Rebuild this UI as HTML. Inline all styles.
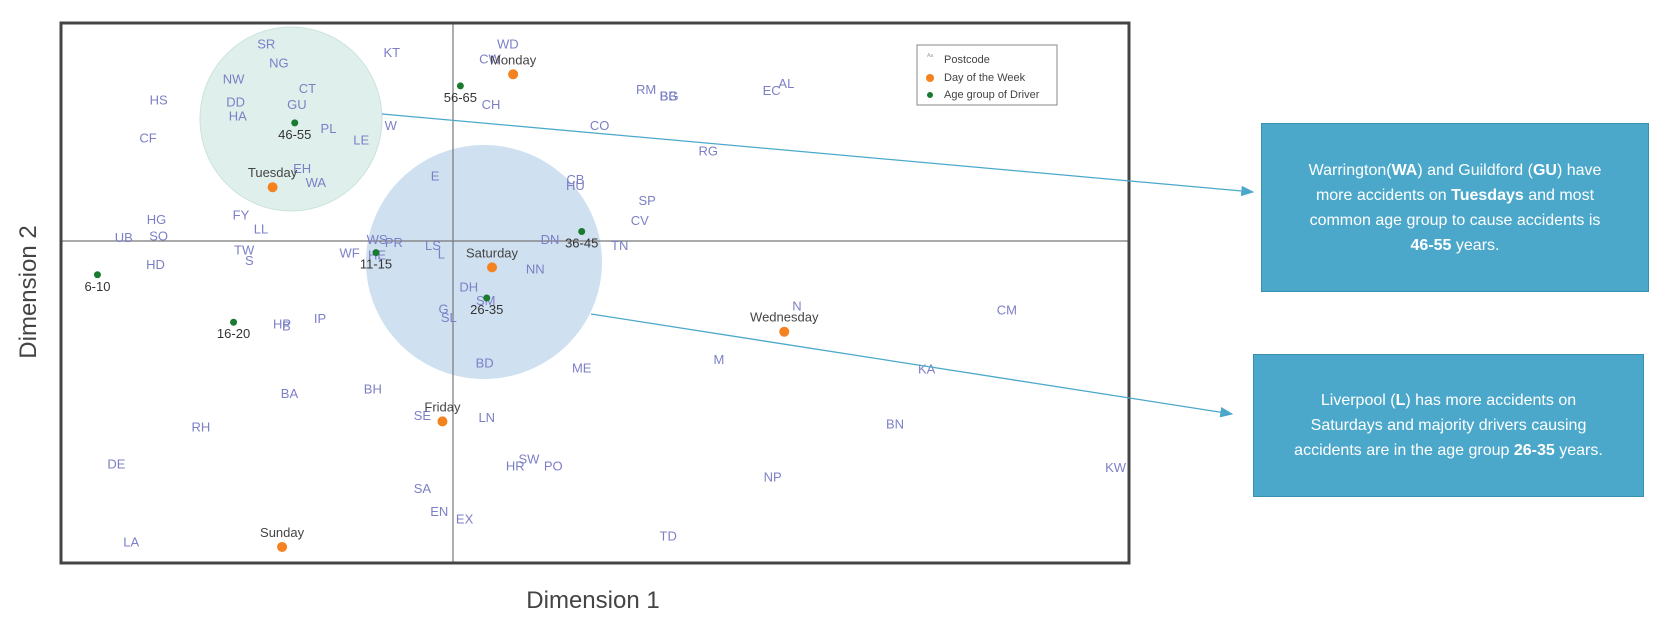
<!DOCTYPE html>
<html><head><meta charset="utf-8"><style>
body{margin:0;background:#fff;width:1656px;height:624px;overflow:hidden;font-family:"Liberation Sans",sans-serif}
.box{position:absolute;background:#4ba8cb;border:1px solid #3b8fb0;color:#fff;font-size:16px;line-height:25px;text-align:center;display:flex;align-items:center;justify-content:center;padding:0 34px;box-sizing:border-box}
.box div{width:100%}
</style></head><body>
<svg id="chart" width="1656" height="624" style="position:absolute;left:0;top:0">
<ellipse cx="291" cy="119" rx="91" ry="92" fill="#dff0ec" stroke="#c9e3dc"/>
<ellipse cx="484" cy="262" rx="118" ry="117" fill="#cfe0f0"/>
<g id="axes"></g><g id="marks"></g>
<rect x="61" y="23" width="1068" height="540" fill="none" stroke="#444" stroke-width="3"/>
<g>
<rect x="917" y="45" width="140" height="60" fill="#fff" stroke="#888"/>
<text x="927" y="57" font-size="5" fill="#99a">Aa</text>
<text x="944" y="63" font-size="11" fill="#444">Postcode</text>
<circle cx="930" cy="78" r="4" fill="#f58220"/>
<text x="944" y="81" font-size="11" fill="#444">Day of the Week</text>
<circle cx="930" cy="95" r="3" fill="#1a7a30"/>
<text x="944" y="98" font-size="11" fill="#444">Age group of Driver</text>
</g>
<defs><marker id="ah" markerWidth="10" markerHeight="8" refX="9" refY="4" orient="auto"><path d="M0,0 L10,4 L0,8 z" fill="#4ba8cb"/></marker></defs>
<line x1="382" y1="114" x2="1253" y2="192" stroke="#4ba8cb" stroke-width="1.3" marker-end="url(#ah)"/>
<line x1="591" y1="314" x2="1232" y2="414" stroke="#4ba8cb" stroke-width="1.3" marker-end="url(#ah)"/>
<text x="593" y="608" font-size="24" fill="#444" text-anchor="middle">Dimension 1</text>
<text transform="translate(36,292) rotate(-90)" font-size="24" fill="#444" text-anchor="middle">Dimension 2</text>
</svg>
<div class="box" style="left:1261px;top:123px;width:388px;height:169px"><div>Warrington(<b>WA</b>) and Guildford (<b>GU</b>) have more accidents on <b>Tuesdays</b> and most common age group to cause accidents is <b>46-55</b> years.</div></div>
<div class="box" style="left:1253px;top:354px;width:391px;height:143px"><div>Liverpool (<b>L</b>) has more accidents on Saturdays and majority drivers causing accidents are in the age group <b>26-35</b> years.</div></div>
<script>
const postcodes=["SR","NG","NW","CT","DD","GU","HA","HS","CF","PL","LE","W","KT","EH","WA","WD","CW","CH","RM","BB","BG","EC","AL","CO","RG","E","CB","HU","SP","CV","DN","TN","NN","FY","LL","HG","SO","UB","HD","TW","S","WF","WS","PR","HE","LS","L","DH","G","SL","SM","BD","ME","M","N","CM","KA","BN","HP","B","IP","BA","BH","RH","SE","LN","HR","SW","PO","DE","SA","EN","EX","NP","KW","LA","TD"];
const postX=[-1.77,-1.65,-2.08,-1.38,-2.06,-1.48,-2.04,-2.79,-2.89,-1.18,-0.87,-0.59,-0.58,-1.43,-1.30,0.52,0.35,0.36,1.83,2.04,2.05,3.02,3.16,1.39,2.42,-0.17,1.16,1.16,1.84,1.77,0.92,1.58,0.78,-2.01,-1.82,-2.81,-2.79,-3.12,-2.82,-1.98,-1.93,-0.98,-0.72,-0.56,-0.72,-0.19,-0.11,0.15,-0.09,-0.04,0.31,0.30,1.22,2.52,3.26,5.25,4.49,4.19,-1.62,-1.58,-1.26,-1.55,-0.76,-2.39,-0.29,0.32,0.59,0.72,0.95,-3.19,-0.29,-0.13,0.11,3.03,6.28,-3.05,2.04];
const postY=[1.87,1.69,1.54,1.45,1.32,1.30,1.19,1.34,0.98,1.07,0.96,1.10,1.79,0.69,0.56,1.87,1.73,1.30,1.44,1.38,1.38,1.43,1.50,1.10,0.86,0.62,0.59,0.53,0.39,0.20,0.02,-0.04,-0.26,0.25,0.12,0.21,0.05,0.04,-0.22,-0.08,-0.18,-0.11,0.02,-0.01,-0.13,-0.04,-0.12,-0.43,-0.64,-0.72,-0.56,-1.15,-1.20,-1.12,-0.61,-0.65,-1.21,-1.73,-0.78,-0.80,-0.73,-1.44,-1.40,-1.76,-1.65,-1.67,-2.13,-2.06,-2.13,-2.11,-2.34,-2.56,-2.63,-2.23,-2.14,-2.85,-2.79];
const days=["Monday","Tuesday","Saturday","Wednesday","Friday","Sunday"];
const dayX=[0.57,-1.71,0.37,3.14,-0.10,-1.62];
const dayY=[1.58,0.51,-0.25,-0.86,-1.71,-2.90];
const ages=["56-65","46-55","36-45","11-15","6-10","16-20","26-35"];
const ageX=[0.07,-1.50,1.22,-0.73,-3.37,-2.08,0.32];
const ageY=[1.47,1.12,0.09,-0.11,-0.32,-0.77,-0.54];
const X0=453,Y0=241,U=105.5,L=61,T=23,R=1129,B=563;
function sx(v){return X0+v*U;}
function sy(v){return Y0-v*U;}
const NS="http://www.w3.org/2000/svg";
const axes=document.getElementById('axes'),marks=document.getElementById('marks');
function mk(tag,attrs,parent,txt){const e=document.createElementNS(NS,tag);for(const k in attrs)e.setAttribute(k,attrs[k]);if(txt!==undefined)e.textContent=txt;parent.appendChild(e);return e;}
const vl=mk('line',{x1:sx(0),x2:sx(0),y1:T,y2:B,stroke:'#777','stroke-width':1.2},axes);


const hl=mk('line',{x1:L,x2:R,y1:sy(0),y2:sy(0),stroke:'#777','stroke-width':1.2},axes);


postcodes.forEach((p,i)=>{
 const t=mk('text',{x:sx(postX[i]),y:sy(postY[i])+5,'font-size':13,fill:'#7c7fc6','text-anchor':'middle'},marks,p);
 
 
});
days.forEach((d,i)=>{
 const c=mk('circle',{cx:sx(dayX[i]),cy:sy(dayY[i]),r:5,fill:'#f58220'},marks);
 
 
 const t=mk('text',{x:sx(dayX[i]),y:sy(dayY[i])-10,'font-size':13,fill:'#444','text-anchor':'middle'},marks,d);
 
 
});
ages.forEach((a,i)=>{
 const c=mk('circle',{cx:sx(ageX[i]),cy:sy(ageY[i]),r:3.5,fill:'#1a7a30'},marks);
 
 
 const t=mk('text',{x:sx(ageX[i]),y:sy(ageY[i])+16,'font-size':13,fill:'#333','text-anchor':'middle'},marks,a);
 
 
});
</script>
</body></html>
